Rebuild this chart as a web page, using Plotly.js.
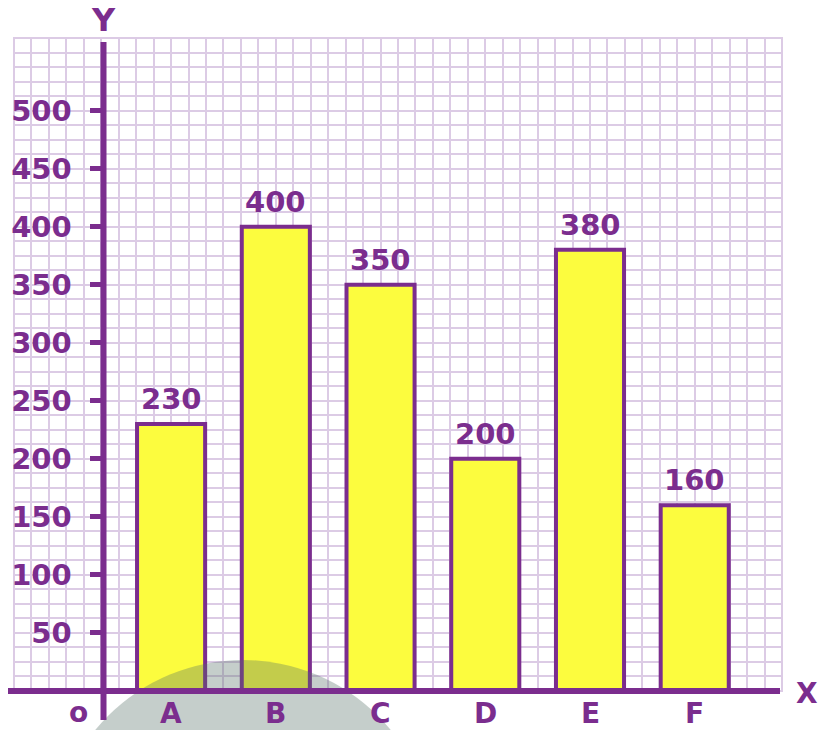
<!DOCTYPE html>
<html>
<head>
<meta charset="utf-8">
<script src="https://cdn.plot.ly/plotly-3.0.1.min.js"></script>
<style>html,body{margin:0;padding:0;background:#fff;}#chart{width:822px;height:730px;}</style>
</head>
<body>
<div id="chart"></div>
<script>
const categories = ['A', 'B', 'C', 'D', 'E', 'F'];
const values = [230, 400, 350, 200, 380, 160];
const yTickValues = [50, 100, 150, 200, 250, 300, 350, 400, 450, 500];
const yTickLabels = ['50', '100', '150', '200', '250', '300', '350', '400', '450', '500'];

const PURPLE = '#7b2d8e';
const GRID = '#dccbe5';
const FONT = 'DejaVu Sans';
const xIdx = categories.map((c, i) => i);

const xMin = -1.5, xMax = 5 + 5 / 6;

// pixel helpers for decorative shapes (plot area: l=14, t=38, w=768, h=653)
const L = 14, T = 38, W = 768, H = 653;
const px = v => (v - L) / W;
const py = v => (T + H - v) / H;
const yAxisPaper = px(103.5);

const trace = {
  type: 'bar',
  x: xIdx,
  y: values,
  width: 0.65,
  marker: {color: '#fcfc3e', line: {color: PURPLE, width: 4}},
  hoverinfo: 'skip'
};

const valueAnnotations = categories.map((c, i) => ({
  x: xIdx[i], y: values[i], xref: 'x', yref: 'y',
  text: String(values[i]), showarrow: false,
  yanchor: 'bottom', yshift: 6,
  font: {family: FONT, size: 29, color: PURPLE, weight: 'bold'}
}));

const categoryAnnotations = categories.map((c, i) => ({
  x: xIdx[i], y: py(713), xref: 'x', yref: 'paper',
  text: c, showarrow: false, xanchor: 'center', yanchor: 'middle',
  font: {family: FONT, size: 28, color: PURPLE, weight: 'bold'}
}));

const layout = {
  width: 822, height: 730,
  margin: {l: L, r: 822 - L - W, t: T, b: 730 - T - H},
  paper_bgcolor: '#ffffff', plot_bgcolor: '#ffffff',
  showlegend: false,
  bargap: 0,
  xaxis: {
    range: [xMin, xMax], fixedrange: true,
    tickmode: 'array', tickvals: xIdx, ticktext: categories,
    showticklabels: false,
    ticks: '', showgrid: false, zeroline: false, showline: false,
    minor: {tick0: 0, dtick: 1 / 6, showgrid: true, gridcolor: GRID, gridwidth: 2, ticks: ''}
  },
  yaxis: {
    range: [0, 562.5], fixedrange: true,
    anchor: 'free', position: yAxisPaper,
    tickmode: 'array', tickvals: yTickValues, ticktext: yTickLabels,
    ticks: 'outside', ticklen: 14, tickwidth: 5, tickcolor: PURPLE,
    ticklabelstandoff: 12,
    tickfont: {family: FONT, size: 29, color: PURPLE, weight: 'bold'},
    showgrid: true, gridcolor: GRID, gridwidth: 2,
    zeroline: false, showline: false,
    minor: {tick0: 0, dtick: 12.5, showgrid: true, gridcolor: GRID, gridwidth: 2, ticks: ''}
  },
  shapes: [
    {type: 'rect', xref: 'paper', yref: 'paper', x0: 0, x1: 1, y0: 0, y1: 1,
     line: {color: GRID, width: 2}, layer: 'below'},
    {type: 'circle', xref: 'paper', yref: 'paper',
     x0: px(243 - 191), x1: px(243 + 191), y0: py(851 + 191), y1: py(851 - 191),
     fillcolor: 'rgba(85,112,103,0.34)', line: {width: 0}, layer: 'above'},
    {type: 'line', xref: 'paper', yref: 'paper', x0: px(8), x1: px(780), y0: 0, y1: 0,
     line: {color: PURPLE, width: 6}, layer: 'above'},
    {type: 'line', xref: 'paper', yref: 'paper', x0: yAxisPaper, x1: yAxisPaper, y0: py(720), y1: py(42),
     line: {color: PURPLE, width: 6}, layer: 'above'}
  ],
  annotations: valueAnnotations.concat(categoryAnnotations, [
    {xref: 'paper', yref: 'paper', x: yAxisPaper, y: py(20), text: 'Y', showarrow: false,
     xanchor: 'center', yanchor: 'middle', font: {family: FONT, size: 32, color: PURPLE, weight: 'bold'}},
    {xref: 'paper', yref: 'paper', x: px(807), y: py(693), text: 'X', showarrow: false,
     xanchor: 'center', yanchor: 'middle', font: {family: FONT, size: 28, color: PURPLE, weight: 'bold'}},
    {xref: 'paper', yref: 'paper', x: px(78), y: py(712), text: 'o', showarrow: false,
     xanchor: 'center', yanchor: 'middle', font: {family: FONT, size: 28, color: PURPLE, weight: 'bold'}}
  ])
};

Plotly.newPlot('chart', [trace], layout, {displayModeBar: false, staticPlot: true});
</script>
</body>
</html>
